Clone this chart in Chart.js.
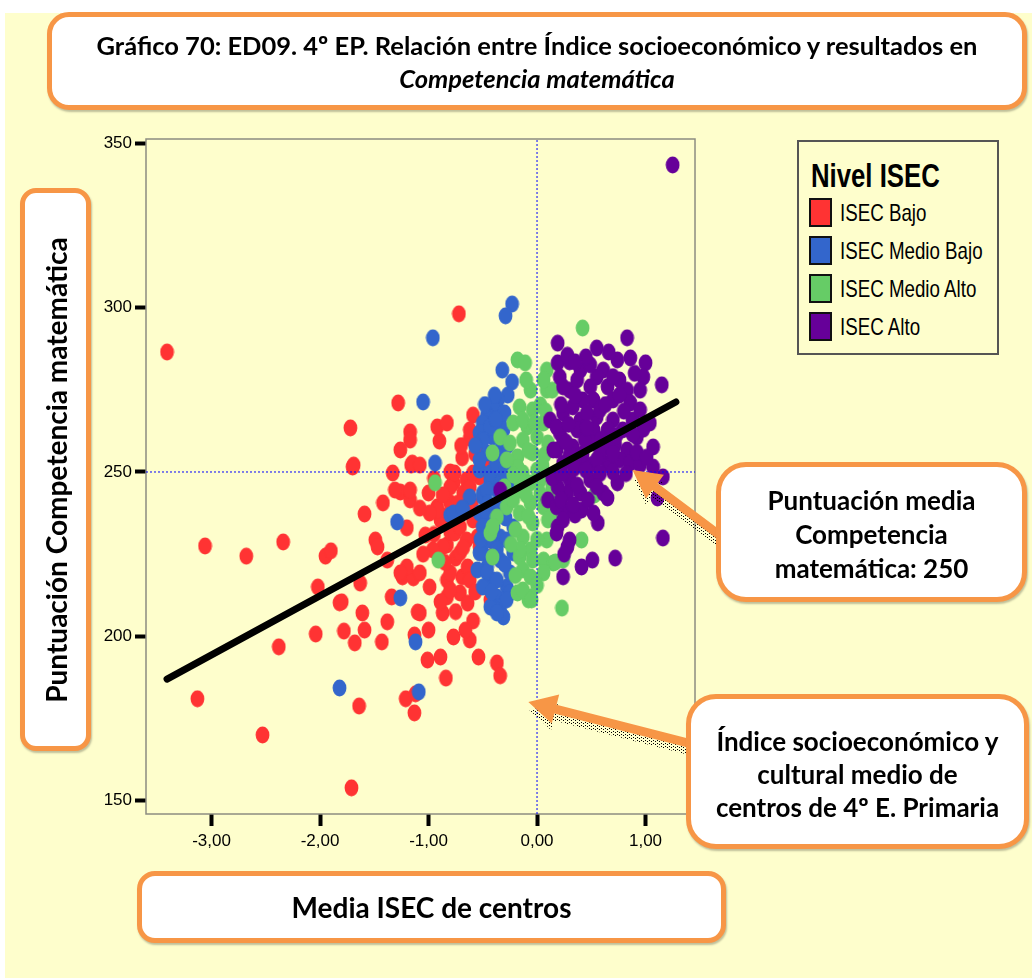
<!DOCTYPE html>
<html>
<head>
<meta charset="utf-8">
<script src="https://cdn.jsdelivr.net/npm/chart.js@4.4.1/dist/chart.umd.min.js"></script>
<style>
html,body{margin:0;padding:0;background:#fff;}
#page{position:relative;width:1032px;height:978px;overflow:hidden;background:#fff;}
#bg{position:absolute;left:5px;top:13px;width:1027px;height:965px;background:#FEFECC;}
#chartWrap{position:absolute;left:0;top:0;width:1032px;height:978px;}
.box{position:absolute;background:#fff;border:5px solid #F79646;box-sizing:border-box;
  font-family:Lato,"Open Sans",sans-serif;font-weight:bold;color:#000;text-align:center;
  box-shadow:1px 2px 2px rgba(0,0,0,0.25);white-space:nowrap;}
#titleBox{left:47px;top:12px;width:980px;height:98px;border-radius:22px;font-size:25.5px;line-height:33px;padding-top:12px;}
#titleBox .it{font-style:italic;}
#yBox{left:20px;top:188px;width:71px;height:563px;border-radius:16px;}
#yBox span{position:absolute;left:50%;top:50%;white-space:nowrap;font-size:28px;transform:translate(-50%,-50%) rotate(-90deg);}
#xBox{left:137px;top:871px;width:589px;height:72px;border-radius:18px;font-size:28px;line-height:62px;}
#note1{left:716px;top:462px;width:311px;height:140px;border-radius:30px;font-size:26px;line-height:34px;padding-top:16px;}
#note2{left:686px;top:694px;width:343px;height:155px;border-radius:30px;font-size:26px;line-height:33px;padding-top:26px;}
#legend{position:absolute;left:797px;top:140px;width:202px;height:215px;box-sizing:border-box;border:2px solid #555;background:#FEFECC;
  font-family:"Liberation Sans",Arial,sans-serif;color:#000;}
#legend .lt{position:absolute;left:12px;top:17px;font-size:33px;font-weight:bold;line-height:33px;transform:scaleX(0.78);transform-origin:left center;white-space:nowrap;}
#legend .row{position:absolute;left:10px;height:29px;display:flex;align-items:center;}
#legend .sw{width:19px;height:25px;border:2px solid #111;}
#legend .lab{margin-left:8px;font-size:24px;line-height:24px;transform:scaleX(0.78);transform-origin:left center;white-space:nowrap;}
</style>
</head>
<body>
<div id="page">
  <div id="bg"></div>
  <div id="chartWrap"><canvas id="c" width="1032" height="978"></canvas></div>
  <div class="box" id="titleBox">Gráfico 70: ED09. 4º EP. Relación entre Índice socioeconómico y resultados en<br><span class="it">Competencia matemática</span></div>
  <div class="box" id="yBox"><span>Puntuación Competencia matemática</span></div>
  <div class="box" id="xBox">Media ISEC de centros</div>
  <div class="box" id="note1">Puntuación media<br>Competencia<br>matemática: 250</div>
  <div class="box" id="note2">Índice socioeconómico y<br>cultural medio de<br>centros de 4º E. Primaria</div>
  <div id="legend">
    <div class="lt">Nivel ISEC</div>
    <div class="row" style="top:56px"><span class="sw" style="background:#FF3333"></span><span class="lab">ISEC Bajo</span></div>
    <div class="row" style="top:94px"><span class="sw" style="background:#3366CC"></span><span class="lab">ISEC Medio Bajo</span></div>
    <div class="row" style="top:132px"><span class="sw" style="background:#66CC66"></span><span class="lab">ISEC Medio Alto</span></div>
    <div class="row" style="top:170px"><span class="sw" style="background:#660099"></span><span class="lab">ISEC Alto</span></div>
  </div>
</div>
<script>
// ---- data (x = media ISEC del centro, y = puntuación) ----
const xTicks = [-3, -2, -1, 0, 1];
const xTickLabels = ['-3,00', '-2,00', '-1,00', '0,00', '1,00'];
const yTicks = [150, 200, 250, 300, 350];
const xBounds = [-3.604, 1.456];
const yBounds = [145.95, 351.3];
const meanScore = 250;
const meanIsec = 0;
const regX = [-3.41, 1.28];
const regY = [187.0, 271.3];
const seriesNames = ['ISEC Bajo', 'ISEC Medio Bajo', 'ISEC Medio Alto', 'ISEC Alto'];

const isecBajo = [[-3.41,286.5],[-3.06,227.5],[-3.13,181.0],[-2.68,224.4],[-2.34,228.7],[-2.53,170.0],[-2.38,196.8],[-2.02,215.0],[-1.95,224.4],[-1.90,226.0],[-2.04,200.7],[-1.72,263.4],[-1.69,252.1],[-1.82,210.2],[-1.71,153.9],[-1.64,178.8],[-1.78,201.6],[-1.68,198.0],[-1.59,237.2],[-1.49,229.3],[-1.47,227.2],[-1.38,223.2],[-1.43,198.3],[-1.38,204.4],[-1.34,212.0],[-1.28,271.0],[-1.26,243.9],[-1.24,218.1],[-1.21,181.0],[-1.17,262.2],[-1.16,252.1],[-1.14,217.8],[-1.13,200.4],[-1.12,182.5],[-1.13,176.7],[-1.08,207.1],[-1.01,192.8],[-1.03,230.8],[-1.00,243.6],[-0.90,259.4],[-0.85,236.6],[-0.84,187.3],[-0.72,298.1],[-0.92,263.7],[-0.83,227.8],[-0.75,223.8],[-0.37,191.9],[-0.34,188.0],[-0.41,224.4],[-0.43,211.1],[-0.62,198.9],[-0.59,204.7],[-0.83,264.9],[-0.59,267.3],[-1.17,259.7],[-1.15,252.7],[-1.08,252.1],[-1.26,256.7],[-0.62,260.3],[-0.69,254.3],[-0.80,250.0],[-0.77,246.7],[-0.65,247.6],[-0.53,248.5],[-1.17,241.5],[-1.17,244.5],[-0.92,239.4],[-0.89,235.4],[-0.80,231.7],[-0.71,225.4],[-0.55,230.2],[-0.59,235.4],[-0.74,236.3],[-1.20,221.1],[-0.99,215.0],[-0.83,217.1],[-0.83,212.0],[-0.69,218.1],[-0.71,213.2],[-0.64,210.1],[-0.87,207.1],[-1.70,251.5],[-1.33,249.7],[-1.31,244.5],[-1.42,240.6],[-1.20,233.0],[-1.63,216.2],[-1.80,210.5],[-1.61,207.1],[-1.59,201.9],[-1.10,207.4],[-1.00,201.9],[-0.89,210.5],[-0.77,199.8],[-0.89,193.7],[-0.66,201.9],[-0.54,193.7],[-0.92,238.4],[-0.76,231.4],[-0.87,227.2],[-0.96,226.3],[-1.08,219.3],[-1.26,219.3],[-0.99,237.5],[-1.08,239.0],[-0.71,233.3],[-0.65,229.3],[-0.64,221.1],[-0.62,217.1],[-0.80,219.3],[-0.80,214.1],[-0.68,243.6],[-0.62,245.4],[-0.80,245.4],[-0.59,249.7],[-0.76,249.7],[-0.80,240.6],[-0.62,262.8],[-0.53,260.6],[-0.50,256.1],[-0.48,252.1],[-0.53,227.2],[-0.50,233.3],[-0.70,258.0],[-0.57,255.5],[-0.87,243.0],[-0.95,248.0],[-0.73,240.5],[-0.60,240.5],[-0.85,222.5],[-0.75,207.5],[-0.57,213.5],[-1.05,225.0],[-0.68,227.0],[-0.95,231.0]];

const isecMedioBajo = [[-0.96,290.8],[-0.23,301.1],[-0.29,297.5],[-1.05,271.3],[-1.29,234.8],[-1.26,211.7],[-1.12,198.3],[-1.82,184.3],[-1.09,183.1],[-0.94,252.7],[-0.62,242.4],[-0.32,281.0],[-0.23,277.4],[-0.27,273.4],[-0.36,271.9],[-0.41,269.8],[-0.46,267.3],[-0.50,264.9],[-0.53,261.9],[-0.34,264.9],[-0.41,260.6],[-0.31,262.8],[-0.46,255.8],[-0.34,256.7],[-0.53,250.6],[-0.43,247.6],[-0.50,242.4],[-0.53,237.5],[-0.39,237.5],[-0.28,242.4],[-0.34,230.2],[-0.43,229.3],[-0.50,225.4],[-0.46,221.1],[-0.34,223.2],[-0.41,217.1],[-0.28,215.0],[-0.37,212.0],[-0.34,208.9],[-0.25,213.2],[-0.25,219.3],[-0.28,229.3],[-0.22,233.3],[-0.25,246.7],[-0.80,236.9],[-0.68,238.4],[-0.50,243.6],[-0.46,237.5],[-0.50,233.3],[-0.46,229.3],[-0.53,225.4],[-0.55,220.2],[-0.46,219.3],[-0.37,217.1],[-0.41,208.9],[-0.31,205.9],[-0.28,211.1],[-0.22,225.4],[-0.37,244.5],[-0.34,247.6],[-0.43,249.7],[-0.43,263.7],[-0.50,259.7],[-0.39,273.4],[-0.77,237.5],[-0.69,239.0],[-0.53,253.7],[-0.46,244.5],[-0.50,215.0],[-0.43,208.9],[-0.37,207.1],[-0.22,252.1],[-0.30,268.0],[-0.38,266.0],[-0.27,258.0],[-0.38,252.5],[-0.30,250.0],[-0.45,240.5],[-0.33,240.0],[-0.40,233.5],[-0.29,236.0],[-0.37,226.5],[-0.30,222.0],[-0.42,213.5],[-0.52,229.5],[-0.57,258.0],[-0.48,270.5]];

const isecMedioAlto = [[-0.18,284.1],[-0.11,283.2],[0.42,293.8],[-0.94,246.7],[-0.91,223.2],[0.23,208.6],[-0.08,211.1],[0.09,281.0],[-0.06,274.9],[-0.16,269.8],[-0.04,268.9],[-0.22,264.9],[-0.09,263.7],[-0.34,260.6],[-0.41,255.8],[-0.25,258.8],[-0.13,259.7],[0.00,260.6],[0.06,264.9],[0.09,274.9],[-0.18,254.6],[-0.04,255.8],[-0.13,249.7],[0.00,250.6],[-0.06,246.7],[-0.16,244.5],[-0.28,239.4],[-0.37,236.3],[-0.43,231.4],[-0.16,237.5],[-0.06,240.6],[0.06,239.4],[-0.04,234.5],[-0.13,230.2],[-0.06,226.3],[-0.16,224.1],[-0.04,223.2],[-0.41,224.1],[-0.13,220.2],[0.06,223.2],[0.15,222.3],[0.24,223.2],[-0.06,218.1],[-0.18,213.2],[-0.06,212.0],[0.06,219.3],[0.09,229.3],[0.12,242.4],[0.15,237.5],[0.14,274.9],[0.10,258.8],[0.14,245.4],[0.53,243.0],[0.41,229.3],[0.17,222.6],[-0.41,233.3],[-0.16,226.3],[-0.13,214.1],[-0.05,211.1],[-0.22,241.5],[-0.16,247.6],[-0.18,251.5],[0.06,278.0],[-0.13,265.8],[0.03,270.4],[0.07,255.2],[0.03,247.6],[0.10,235.4],[-0.28,253.7],[-0.22,249.1],[-0.10,278.0],[-0.02,265.0],[-0.08,256.5],[0.05,252.0],[-0.08,236.5],[0.00,229.5],[-0.10,243.0],[0.03,243.5],[-0.20,232.5],[-0.24,228.0],[0.00,215.5],[-0.20,218.5],[0.08,268.5],[-0.30,245.5]];

const isecAlto = [[1.25,343.4],[0.19,289.2],[0.55,287.7],[0.83,290.8],[0.19,283.2],[0.30,283.5],[0.40,281.0],[0.74,284.1],[0.86,284.7],[1.00,283.2],[1.15,276.5],[0.98,278.9],[0.95,274.9],[0.61,281.0],[0.55,278.9],[0.49,275.9],[0.30,274.9],[0.37,278.0],[0.21,278.9],[0.65,275.9],[0.76,278.0],[0.83,274.9],[0.70,271.9],[0.86,271.0],[0.52,271.9],[0.42,271.9],[0.33,269.8],[0.24,267.9],[0.12,265.8],[0.40,265.8],[0.55,266.7],[0.70,265.8],[0.88,265.8],[1.04,264.9],[0.21,261.9],[0.37,262.8],[0.52,262.8],[0.65,262.8],[0.79,262.8],[0.92,260.6],[0.18,256.7],[0.33,257.6],[0.52,258.8],[0.65,257.6],[0.83,256.7],[1.07,257.6],[0.24,252.7],[0.40,253.7],[0.65,252.7],[0.76,253.7],[0.86,252.7],[0.95,252.1],[1.07,251.5],[1.16,248.5],[0.30,247.6],[0.49,247.6],[0.74,246.7],[0.40,243.6],[0.28,243.6],[0.61,243.6],[1.11,242.1],[1.16,229.9],[0.65,242.1],[0.56,234.5],[0.72,223.8],[0.51,223.2],[0.41,221.1],[0.24,218.1],[0.30,229.3],[0.19,233.3],[0.26,238.4],[0.41,238.4],[0.47,241.5],[0.19,245.4],[0.10,241.5],[0.24,275.9],[0.18,263.7],[0.24,259.7],[0.15,256.7],[-0.34,244.5],[0.18,239.4],[0.24,235.4],[0.18,231.4],[0.28,227.2],[0.49,252.1],[0.58,255.2],[0.55,253.7],[0.72,258.2],[0.30,255.2],[0.44,259.7],[0.58,268.9],[0.76,273.4],[0.95,268.9],[0.35,273.4],[0.49,282.6],[0.14,248.2],[0.35,236.9],[0.28,285.5],[0.45,285.0],[0.66,286.5],[0.70,279.0],[0.90,280.0],[0.46,268.0],[0.63,270.5],[0.80,268.5],[0.98,263.0],[0.29,264.5],[0.46,263.5],[0.59,260.0],[0.73,261.0],[0.88,261.5],[0.27,259.0],[0.42,255.5],[0.70,255.5],[0.92,256.0],[1.01,254.5],[0.34,251.0],[0.45,250.5],[0.58,249.5],[0.70,250.0],[0.82,249.5],[0.37,246.0],[0.55,245.5],[0.23,249.5],[0.22,270.5],[0.35,283.5],[0.22,241.5],[0.33,240.0],[0.52,237.5],[0.25,225.0]];

// annotation anchors (data space) for the arrows
const arrowMeanScoreAt = [0.88, 250];
const arrowMeanIsecAt = [-0.08, 180];

// ---- styling ----
const colors = ['#FF3333', '#3366CC', '#66CC66', '#660099'];
function dot(color){
  const c = document.createElement('canvas'); c.width = 15; c.height = 18;
  const g = c.getContext('2d'); g.fillStyle = color; g.beginPath();
  g.ellipse(7.5, 9, 6.9, 8.4, 0, 0, Math.PI*2); g.fill(); return c;
}
const toPts = arr => arr.map(p => ({x: p[0], y: p[1]}));
const groups = [isecBajo, isecMedioBajo, isecMedioAlto, isecAlto];

const scatterSets = groups.map((g, i) => ({
  type: 'scatter', label: seriesNames[i], data: toPts(g),
  pointStyle: dot(colors[i]), pointRadius: 7, pointHoverRadius: 7,
  backgroundColor: colors[i], borderWidth: 0, order: 5 - i
}));

const lineSets = [
  {type:'line', label:'reg', data:[{x:regX[0],y:regY[0]},{x:regX[1],y:regY[1]}], borderColor:'#000', borderWidth:7,
   borderCapStyle:'round', pointRadius:0, fill:false, order:0},
  {type:'line', label:'meanScore', data:[{x:xBounds[0],y:meanScore},{x:xBounds[1],y:meanScore}], borderColor:'#0000FF', borderWidth:1,
   borderDash:[2,2], pointRadius:0, fill:false, order:1},
  {type:'line', label:'meanIsec', data:[{x:meanIsec,y:yBounds[0]},{x:meanIsec,y:yBounds[1]}], borderColor:'#0000FF', borderWidth:1,
   borderDash:[2,2], pointRadius:0, fill:false, order:1}
];

function dotPattern(ctx){
  const p = document.createElement('canvas'); p.width = 4; p.height = 3;
  const g = p.getContext('2d'); g.fillStyle = '#000'; g.fillRect(0,0,1,1); g.fillRect(2,1,1,1);
  return ctx.createPattern(p, 'repeat');
}
function arrowPoly(ctx, tail, tip, sw, hl, hw){
  const dx = tip[0]-tail[0], dy = tip[1]-tail[1], L = Math.hypot(dx,dy);
  const ux = dx/L, uy = dy/L, nx = -uy, ny = ux;
  const bx = tip[0]-ux*hl, by = tip[1]-uy*hl;
  ctx.beginPath();
  ctx.moveTo(tail[0]+nx*sw/2, tail[1]+ny*sw/2);
  ctx.lineTo(bx+nx*sw/2, by+ny*sw/2);
  ctx.lineTo(bx+nx*hw/2, by+ny*hw/2);
  ctx.lineTo(tip[0], tip[1]);
  ctx.lineTo(bx-nx*hw/2, by-ny*hw/2);
  ctx.lineTo(bx-nx*sw/2, by-ny*sw/2);
  ctx.lineTo(tail[0]-nx*sw/2, tail[1]-ny*sw/2);
  ctx.closePath();
}
const framePlugin = {
  id: 'frame',
  beforeDatasetsDraw(chart){
    const {ctx, chartArea:a} = chart;
    ctx.save(); ctx.strokeStyle = '#8C8C80'; ctx.lineWidth = 1.5;
    ctx.strokeRect(a.left, a.top, a.right-a.left, a.bottom-a.top); ctx.restore();
  },
  afterDraw(chart){
    const {ctx, scales:{x, y}} = chart;
    const arrows = [
      {tail:[722,537], tip:[x.getPixelForValue(arrowMeanScoreAt[0]), y.getPixelForValue(arrowMeanScoreAt[1])-2]},
      {tail:[692,744], tip:[x.getPixelForValue(arrowMeanIsecAt[0]), y.getPixelForValue(arrowMeanIsecAt[1])]}
    ];
    const pat = dotPattern(ctx);
    arrows.forEach(ar => {
      ctx.save(); ctx.translate(1, 8); ctx.fillStyle = pat;
      arrowPoly(ctx, ar.tail, ar.tip, 8, 26, 28); ctx.fill(); ctx.restore();
      ctx.save(); ctx.fillStyle = '#F79646';
      arrowPoly(ctx, ar.tail, ar.tip, 9, 28, 30); ctx.fill(); ctx.restore();
    });
  }
};

const tickFont = {family: '"Liberation Sans",Arial,sans-serif', size: 17};
new Chart(document.getElementById('c'), {
  type: 'scatter',
  data: {datasets: [...lineSets, ...scatterSets]},
  options: {
    responsive: false, animation: false, devicePixelRatio: 1,
    layout: {padding: {left: 90, top: 139, right: 337, bottom: 124}},
    plugins: {legend: {display: false}, tooltip: {enabled: false}},
    scales: {
      x: {
        type: 'linear', min: xBounds[0], max: xBounds[1],
        afterBuildTicks: s => { s.ticks = xTicks.map(v => ({value: v})); },
        afterFit: s => { s.height = 40; },
        ticks: {autoSkip: false, maxRotation: 0, color: '#000', font: tickFont, padding: 5,
                callback: v => xTickLabels[xTicks.indexOf(v)]},
        grid: {drawOnChartArea: false, drawTicks: true, tickLength: 12, tickWidth: 4, tickColor: '#000'},
        border: {display: false}
      },
      y: {
        type: 'linear', min: yBounds[0], max: yBounds[1],
        afterBuildTicks: s => { s.ticks = yTicks.map(v => ({value: v})); },
        afterFit: s => { s.width = 56; },
        ticks: {autoSkip: false, color: '#000', font: tickFont, padding: 3, callback: v => String(v)},
        grid: {drawOnChartArea: false, drawTicks: true, tickLength: 11, tickWidth: 4, tickColor: '#000'},
        border: {display: false}
      }
    }
  },
  plugins: [framePlugin]
});
</script>
</body>
</html>
